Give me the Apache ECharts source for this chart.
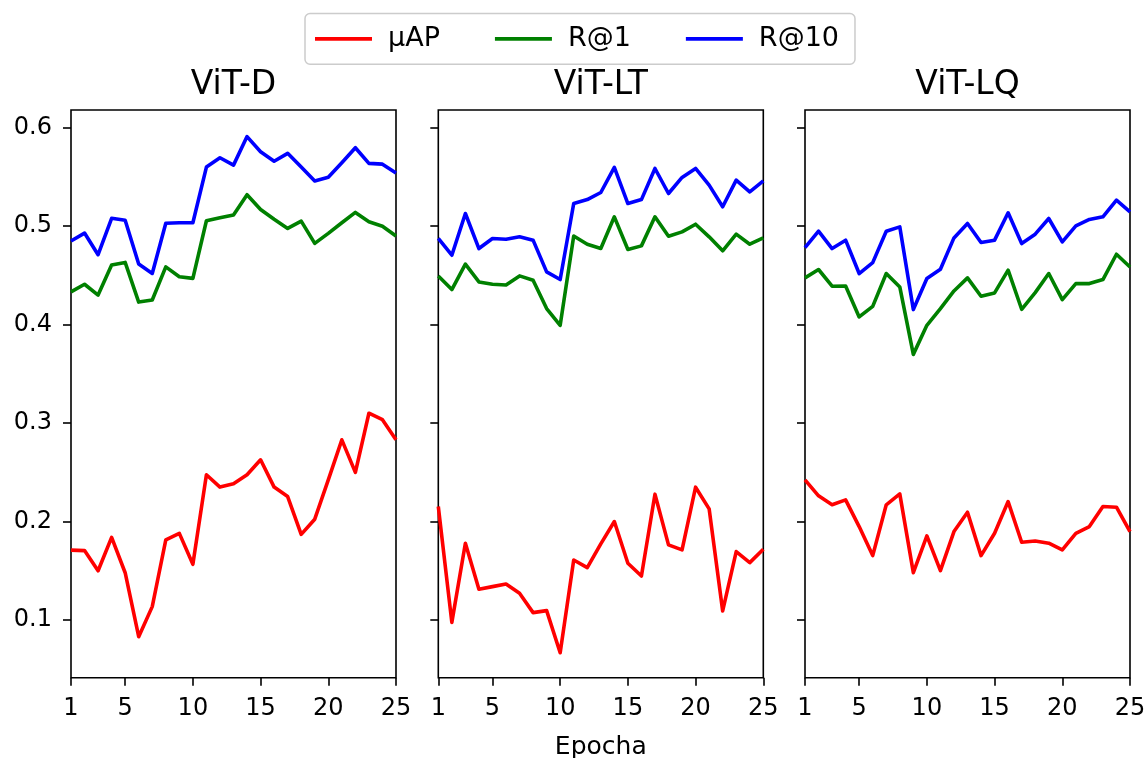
<!DOCTYPE html>
<html>
<head>
<meta charset="utf-8">
<script src="https://cdn.jsdelivr.net/npm/echarts@6/dist/echarts.min.js"></script>
<style>
  html, body { margin: 0; padding: 0; background: #fff; }
  #chart { width: 1147px; height: 758px; }
</style>
</head>
<body>
<div id="chart"></div>
<script>
// Training curves per backbone: mean average precision and recall@k per epoch
const epochs = [1, 2, 3, 4, 5, 6, 7, 8, 9, 10, 11, 12, 13, 14, 15, 16, 17, 18, 19, 20, 21, 22, 23, 24, 25];
const xTicks = [1, 5, 10, 15, 20, 25];
const yTicks = [0.1, 0.2, 0.3, 0.4, 0.5, 0.6];
const panelTitles = ['ViT-D', 'ViT-LT', 'ViT-LQ'];
const metricNames = ['µAP', 'R@1', 'R@10'];
const metricColors = ['#ff0000', '#008000', '#0000ff'];

const vitD_map = [0.171, 0.1705, 0.150, 0.184, 0.148, 0.083, 0.1136, 0.1814, 0.188, 0.1566, 0.2475, 0.235, 0.2383, 0.2475, 0.2627, 0.235, 0.2254, 0.187, 0.2024, 0.2424, 0.283, 0.250, 0.310, 0.3034, 0.283];
const vitD_r1 = [0.4333, 0.441, 0.430, 0.4605, 0.4632, 0.4229, 0.425, 0.4587, 0.4486, 0.447, 0.5055, 0.5085, 0.5113, 0.532, 0.517, 0.507, 0.4977, 0.5052, 0.4825, 0.4927, 0.5035, 0.514, 0.5045, 0.500, 0.490];
const vitD_r10 = [0.485, 0.493, 0.471, 0.508, 0.506, 0.4615, 0.452, 0.503, 0.5035, 0.5035, 0.560, 0.5695, 0.562, 0.591, 0.5756, 0.566, 0.574, 0.560, 0.546, 0.5496, 0.5644, 0.5797, 0.5638, 0.563, 0.554];

const vitLT_map = [0.2153, 0.0976, 0.178, 0.1312, 0.1339, 0.1366, 0.1271, 0.1075, 0.1095, 0.0668, 0.161, 0.1532, 0.1773, 0.200, 0.1576, 0.1447, 0.2278, 0.1763, 0.1712, 0.2349, 0.2129, 0.1092, 0.1695, 0.1583, 0.1719];
const vitLT_r1 = [0.4495, 0.4356, 0.4614, 0.4434, 0.441, 0.4403, 0.4495, 0.4451, 0.4163, 0.3993, 0.490, 0.4817, 0.4773, 0.5095, 0.4763, 0.480, 0.5095, 0.4898, 0.4942, 0.502, 0.4892, 0.475, 0.4919, 0.4817, 0.4881];
const vitLT_r10 = [0.4875, 0.4705, 0.5129, 0.4773, 0.4875, 0.4868, 0.4892, 0.4858, 0.4536, 0.4458, 0.523, 0.527, 0.5342, 0.5597, 0.523, 0.527, 0.5586, 0.5332, 0.5495, 0.5586, 0.5417, 0.5197, 0.5468, 0.5349, 0.546];

const vitLQ_map = [0.2424, 0.2261, 0.217, 0.222, 0.1949, 0.1654, 0.217, 0.2281, 0.1481, 0.1854, 0.1502, 0.1898, 0.2095, 0.1654, 0.1881, 0.2203, 0.179, 0.1803, 0.178, 0.1712, 0.1881, 0.1949, 0.2153, 0.2146, 0.1898];
const vitLQ_r1 = [0.4475, 0.456, 0.439, 0.4393, 0.4078, 0.4186, 0.4519, 0.4383, 0.3698, 0.3993, 0.4163, 0.4342, 0.4475, 0.4288, 0.4322, 0.4553, 0.4156, 0.4325, 0.4519, 0.4254, 0.4417, 0.4417, 0.4458, 0.4715, 0.4586];
const vitLQ_r10 = [0.4783, 0.4949, 0.4773, 0.4858, 0.4519, 0.463, 0.4949, 0.4993, 0.4153, 0.4468, 0.4563, 0.4881, 0.5027, 0.4834, 0.4858, 0.5136, 0.4824, 0.4919, 0.5078, 0.4841, 0.5003, 0.5068, 0.5095, 0.5264, 0.5146];

const panelData = [
  [vitD_map, vitD_r1, vitD_r10],
  [vitLT_map, vitLT_r1, vitLT_r10],
  [vitLQ_map, vitLQ_r1, vitLQ_r10]
];

const FONT = 'DejaVu Sans';
const gridLefts = [71, 438.3, 805];
const gridWidth = 325;
const gridTop = 110;
const gridHeight = 567.7;
const yMin = 0.0414, yMax = 0.618;

const grids = [], xAxes = [], yAxes = [], titles = [], series = [];

panelTitles.forEach((title, i) => {
  grids.push({
    left: gridLefts[i], top: gridTop, width: gridWidth, height: gridHeight,
    outerBoundsMode: 'none', containLabel: false,
    show: true, borderColor: '#000', borderWidth: 1.6, backgroundColor: '#fff'
  });
  titles.push({
    text: title,
    left: gridLefts[i] + gridWidth / 2,
    top: 69,
    textAlign: 'center',
    padding: 0,
    textStyle: { fontFamily: FONT, fontSize: 33, fontWeight: 'normal', color: '#000' }
  });
  xAxes.push({
    type: 'value', gridIndex: i, min: 1, max: 25,
    axisLine: { show: false },
    splitLine: { show: false },
    axisTick: { show: true, length: 8, inside: false, customValues: xTicks, lineStyle: { color: '#000', width: 1.6 } },
    axisLabel: { show: true, customValues: xTicks, margin: 19, fontFamily: FONT, fontSize: 24, color: '#000' },
    name: i === 1 ? 'Epocha' : '',
    nameLocation: 'middle',
    nameGap: 57,
    nameTextStyle: { fontFamily: FONT, fontSize: 25, color: '#000' }
  });
  yAxes.push({
    type: 'value', gridIndex: i, min: yMin, max: yMax,
    axisLine: { show: false },
    splitLine: { show: false },
    axisTick: { show: true, length: 8, inside: false, customValues: yTicks, lineStyle: { color: '#000', width: 1.6 } },
    axisLabel: {
      show: i === 0, customValues: yTicks, margin: 19,
      fontFamily: FONT, fontSize: 24, color: '#000',
      formatter: v => v.toFixed(1)
    }
  });
  metricNames.forEach((name, k) => {
    series.push({
      name: name,
      type: 'line',
      xAxisIndex: i, yAxisIndex: i,
      data: epochs.map((e, j) => [e, panelData[i][k][j]]),
      showSymbol: false,
      symbol: 'none',
      clip: true,
      lineStyle: { color: metricColors[k], width: 3.6, join: 'round', cap: 'butt' },
      itemStyle: { color: metricColors[k] },
      animation: false,
      z: 2 + k
    });
  });
});

const chart = echarts.init(document.getElementById('chart'), null, { renderer: 'canvas' });
chart.setOption({
  backgroundColor: '#fff',
  animation: false,
  title: titles,
  legend: {
    data: metricNames.map((n, k) => ({ name: n, itemStyle: { color: metricColors[k] } })),
    left: 305, top: 13.6,
    orient: 'horizontal',
    icon: 'rect',
    itemWidth: 57, itemHeight: 3.6,
    itemGap: 55,
    padding: [11.8, 16, 11.8, 10],
    borderColor: '#cccccc', borderWidth: 1.5, borderRadius: 5,
    backgroundColor: '#fff',
    textStyle: { fontFamily: FONT, fontSize: 27, color: '#000', padding: [0, 0, 0, 11] },
    selectedMode: false
  },
  grid: grids,
  xAxis: xAxes,
  yAxis: yAxes,
  series: series
});
</script>
</body>
</html>
